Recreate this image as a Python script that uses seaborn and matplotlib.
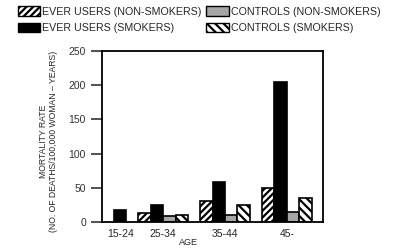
import matplotlib
matplotlib.use("Agg")
import matplotlib.pyplot as plt
import seaborn as sns
import numpy as np

# Mortality rate per 100,000 woman-years by age group
ages = ["15-24", "25-34", "35-44", "45-"]
series = ["EVER USERS (NON-SMOKERS)", "EVER USERS (SMOKERS)",
          "CONTROLS (NON-SMOKERS)", "CONTROLS (SMOKERS)"]
ever_nonsmokers = [np.nan, 13, 30, 49]
ever_smokers = [17, 25, 58, 204]
ctrl_nonsmokers = [np.nan, 9, 10, 14]
ctrl_smokers = [np.nan, 10, 25, 35]
values = [ever_nonsmokers, ever_smokers, ctrl_nonsmokers, ctrl_smokers]

sns.set_style("ticks")
plt.rcParams["font.family"] = ["Liberation Sans", "DejaVu Sans"]

colors = ["white", "black", "#a6a6a6", "white"]
hatches = ["/////", None, None, "\\\\\\\\"]
plt.rcParams["hatch.linewidth"] = 1.6

fig = plt.figure(figsize=(4, 2.5), dpi=100)
ax = fig.add_axes([0.255, 0.112, 0.5525, 0.684])

group_pos = [1.45, 4.9, 9.85, 14.8]
width = 1.0
for g, gx in enumerate(group_pos):
    present = [i for i in range(4) if not np.isnan(values[i][g])]
    n = len(present)
    for k, i in enumerate(present):
        x = gx + (k - (n - 1) / 2) * width
        ax.bar(x, values[i][g], width=width, color=colors[i], hatch=hatches[i],
               edgecolor="black", linewidth=1.2, zorder=2)

handles = [plt.Rectangle((0, 0), 1, 1, facecolor=colors[i], hatch=hatches[i],
                         edgecolor="black", linewidth=1.0) for i in range(4)]
fig.legend(handles, series, ncol=2, loc="upper left", bbox_to_anchor=(0.028, 1.0),
           frameon=False, fontsize=7.7, handlelength=2.1, handleheight=1.0,
           handletextpad=0.2, columnspacing=0.45, labelspacing=0.55, borderaxespad=0.2)

ax.set_xlim(0, 17.7)
ax.set_ylim(0, 250)
ax.set_yticks([0, 50, 100, 150, 200, 250])
ax.set_xticks(group_pos)
ax.set_xticklabels(ages)
ax.tick_params(axis="x", length=0, labelsize=7.5, pad=5)
ax.tick_params(axis="y", length=8, width=1.2, labelsize=7.5, colors="#333333")
for s in ax.spines.values():
    s.set_linewidth(1.3)
    s.set_color("black")

ax.set_xlabel("AGE", fontsize=6.5)
ax.xaxis.set_label_coords(0.39, -0.095)
ax.set_ylabel("MORTALITY RATE\n(NO. OF DEATHS/100,000 WOMAN \u2013 YEARS)", fontsize=6.2,
              linespacing=1.1)
ax.yaxis.set_label_coords(-0.20, 0.47)

fig.savefig("out.png", dpi=100)
